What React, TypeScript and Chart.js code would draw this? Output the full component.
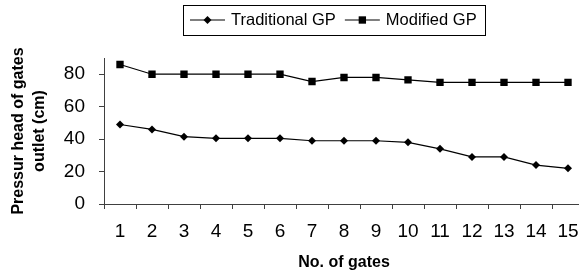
import React, { useEffect, useRef } from "react";
import { Chart, registerables } from "chart.js";

Chart.register(...registerables);

const gates = ["1", "2", "3", "4", "5", "6", "7", "8", "9", "10", "11", "12", "13", "14", "15"];
const traditionalGP = [49, 46, 41.5, 40.5, 40.5, 40.5, 39, 39, 39, 38, 34, 29, 29, 24, 22];
const modifiedGP = [86, 80, 80, 80, 80, 80, 75.5, 78, 78, 76.5, 75, 75, 75, 75, 75];
const yTicks = [0, 20, 40, 60, 80];
const seriesNames = ["Traditional GP", "Modified GP"];

const FONT = "'Liberation Sans', Arial, Helvetica, sans-serif";
const AXIS = "#404040";

const legendPlugin = {
  id: "boxLegend",
  afterDraw(chart: any) {
    const ctx = chart.ctx as CanvasRenderingContext2D;
    ctx.save();
    ctx.font = `16.5px ${FONT}`;
    const lineLen = 35;
    const gapAfterLine = 6;
    const gapBetween = 9;
    const padL = 7;
    const padR = 8;
    const items = chart.data.datasets.map((ds: any) => ({
      ds,
      w: ctx.measureText(ds.label).width,
    }));
    let total = padL + padR;
    items.forEach((it: any, i: number) => {
      total += lineLen + gapAfterLine + it.w + (i < items.length - 1 ? gapBetween : 0);
    });
    const left = 183;
    const top = 5;
    const h = 30;
    const cy = top + h / 2;
    ctx.strokeStyle = "#000";
    ctx.lineWidth = 1;
    ctx.strokeRect(left + 0.5, top + 0.5, Math.round(total), h);
    let x = left + padL;
    items.forEach((it: any) => {
      ctx.strokeStyle = "#000";
      ctx.lineWidth = 1.2;
      ctx.beginPath();
      ctx.moveTo(x, cy);
      ctx.lineTo(x + lineLen, cy);
      ctx.stroke();
      ctx.fillStyle = "#000";
      const mx = x + lineLen / 2;
      if (it.ds.pointStyle === "rectRot") {
        const r = it.ds.pointRadius;
        ctx.beginPath();
        ctx.moveTo(mx - r, cy);
        ctx.lineTo(mx, cy - r);
        ctx.lineTo(mx + r, cy);
        ctx.lineTo(mx, cy + r);
        ctx.closePath();
        ctx.fill();
      } else {
        const s = it.ds.pointRadius * Math.SQRT1_2;
        ctx.fillRect(mx - s, cy - s, 2 * s, 2 * s);
      }
      x += lineLen + gapAfterLine;
      ctx.fillStyle = "#000";
      ctx.textBaseline = "middle";
      ctx.textAlign = "left";
      ctx.fillText(it.ds.label, x, cy + 0.5);
      x += it.w + gapBetween;
    });
    ctx.restore();
  },
};

export default function App() {
  const ref = useRef<HTMLCanvasElement | null>(null);

  useEffect(() => {
    document.body.style.margin = "0";
    document.body.style.overflow = "hidden";
    const canvas = ref.current;
    if (!canvas) return;
    const chart = new Chart(canvas, {
      type: "line",
      data: {
        labels: gates,
        datasets: [
          {
            label: seriesNames[0],
            data: traditionalGP,
            borderColor: "#000",
            backgroundColor: "#000",
            borderWidth: 1.2,
            pointStyle: "rectRot",
            pointRadius: 4,
            pointBorderWidth: 0,
            pointBackgroundColor: "#000",
            tension: 0,
          },
          {
            label: seriesNames[1],
            data: modifiedGP,
            borderColor: "#000",
            backgroundColor: "#000",
            borderWidth: 1.2,
            pointStyle: "rect",
            pointRadius: 5.2,
            pointBorderWidth: 0,
            pointBackgroundColor: "#000",
            tension: 0,
          },
        ],
      },
      options: {
        responsive: false,
        animation: false,
        devicePixelRatio: 1,
        layout: { padding: { top: 58, right: 6, left: 0, bottom: 0 } },
        plugins: {
          legend: { display: false },
          tooltip: { enabled: false },
        },
        scales: {
          x: {
            type: "category",
            offset: true,
            grid: {
              offset: true,
              drawOnChartArea: false,
              drawTicks: true,
              tickLength: 5,
              color: AXIS,
              lineWidth: 1,
            },
            border: { display: true, color: AXIS, width: 1 },
            ticks: {
              color: "#000",
              font: { family: FONT, size: 19 },
              padding: 11,
              maxRotation: 0,
              autoSkip: false,
            },
            title: {
              display: true,
              text: "No. of gates",
              color: "#000",
              font: { family: FONT, size: 16, weight: "bold" },
              padding: { top: 0, bottom: 5 },
            },
            afterFit: (scale: any) => {
              scale.height = 73;
            },
          },
          y: {
            min: 0,
            max: 90,
            afterBuildTicks: (scale: any) => {
              scale.ticks = yTicks.map((v) => ({ value: v }));
            },
            grid: {
              drawOnChartArea: false,
              drawTicks: true,
              tickLength: 5,
              color: AXIS,
              lineWidth: 1,
            },
            border: { display: true, color: AXIS, width: 1 },
            ticks: {
              color: "#000",
              font: { family: FONT, size: 19 },
              padding: 14,
            },
            title: {
              display: true,
              text: ["Pressur head of gates", "outlet (cm)"],
              color: "#000",
              font: { family: FONT, size: 16, weight: "bold", lineHeight: 1.3 },
              padding: { top: 8.5, bottom: 0 },
            },
            afterFit: (scale: any) => {
              scale.width = 104;
            },
          },
        },
      },
      plugins: [legendPlugin],
    });
    return () => chart.destroy();
  }, []);

  return (
    <div style={{ position: "fixed", left: 0, top: 0, width: 590, height: 277, background: "#fff" }}>
      <canvas ref={ref} width={590} height={277} style={{ width: 590, height: 277, display: "block" }} />
    </div>
  );
}
